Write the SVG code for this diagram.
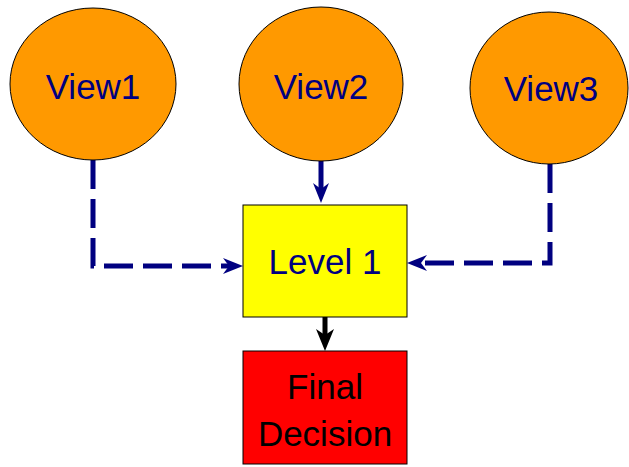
<svg xmlns="http://www.w3.org/2000/svg" width="629" height="467" viewBox="0 0 629 467">
  <style>
    .view { fill: #FF9900; stroke: #000000; stroke-width: 1; }
    .lbl { font-family: "Liberation Sans", Arial, sans-serif; font-size: 35px; text-anchor: middle; }
    .navy { fill: #000080; }
    .dark { fill: #000000; }
    .edge { fill: none; stroke-width: 5; }
    .dash { stroke-dasharray: 29 10; }
  </style>
  <defs>
    <marker id="headNavy" markerUnits="userSpaceOnUse" viewBox="0 0 20 16" markerWidth="20" markerHeight="16" refX="8" refY="8" orient="auto">
      <path d="M0,0 L20,8 L0,16 L6,8 Z" fill="#000080"/>
    </marker>
    <marker id="headBlack" markerUnits="userSpaceOnUse" viewBox="0 0 22 18" markerWidth="22" markerHeight="18" refX="10" refY="9" orient="auto">
      <path d="M0,0 L22,9 L0,18 L6,9 Z" fill="#000000"/>
    </marker>
  </defs>

  <g id="connectors">
    <path class="edge dash" d="M93,160 V266 H231" stroke="#000080" marker-end="url(#headNavy)"/>
    <path class="edge" d="M321,161 V191" stroke="#000080" marker-end="url(#headNavy)"/>
    <path class="edge dash" d="M550,164 V263 H419" stroke="#000080" marker-end="url(#headNavy)"/>
    <path class="edge" d="M325,317 V339" stroke="#000000" stroke-width="6" marker-end="url(#headBlack)"/>
  </g>

  <g id="view1">
    <ellipse class="view" cx="93" cy="84" rx="83" ry="76"/>
    <text class="lbl navy" x="93" y="99">View1</text>
  </g>
  <g id="view2">
    <ellipse class="view" cx="321" cy="84" rx="82" ry="77"/>
    <text class="lbl navy" x="321" y="99">View2</text>
  </g>
  <g id="view3">
    <ellipse class="view" cx="549" cy="88" rx="79" ry="76"/>
    <text class="lbl navy" x="551" y="101">View3</text>
  </g>

  <g id="level1">
    <rect x="243" y="205" width="164" height="112" fill="#FFFF00" stroke="#000000" stroke-width="1"/>
    <text class="lbl navy" x="325" y="274">Level 1</text>
  </g>

  <g id="final-decision">
    <rect x="243" y="351" width="164" height="113" fill="#FF0000" stroke="#000000" stroke-width="1"/>
    <text class="lbl dark" x="325" y="399">Final</text>
    <text class="lbl dark" x="325" y="446">Decision</text>
  </g>
</svg>
